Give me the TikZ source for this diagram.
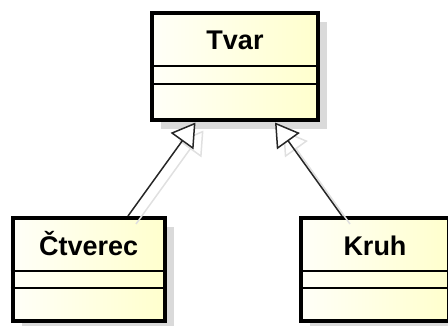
\documentclass[tikz,border=0pt]{standalone}
\usepackage{fontspec}
\setmainfont{Liberation Sans}
\usetikzlibrary{arrows.meta,shadows}
\definecolor{fillA}{RGB}{255,255,248}
\definecolor{fillB}{RGB}{255,255,205}
\definecolor{shadowgray}{RGB}{218,218,218}
\tikzset{
  classbox/.style={draw=black, line width=4pt, rectangle, inner sep=0pt,
    left color=fillA, right color=fillB,
    drop shadow={shadow xshift=9pt, shadow yshift=-9pt, fill=shadowgray, opacity=1}},
  title/.style={font=\bfseries\fontsize{27}{31}\selectfont, anchor=base, inner sep=0pt},
  sepline/.style={line width=2pt},
  gen/.style={line width=1.5pt, draw=black!85,
    -{Triangle[open, length=23pt, width=28pt, fill=white]}},
  genshadow/.style={line width=1.5pt, draw=black!12,
    -{Triangle[open, length=23pt, width=28pt]}}
}
\begin{document}
\begin{tikzpicture}[x=1pt,y=-1pt]
\useasboundingbox (0,0) rectangle (448,326);
\clip (0,0) rectangle (448,326);

% boxes
\node[classbox, minimum width=166pt, minimum height=107.5pt] (tvar) at (235,66.75) {};
\node[classbox, minimum width=152.5pt, minimum height=103pt] (ctv) at (88.75,269.5) {};
\node[classbox, minimum width=148pt, minimum height=103pt] (kruh) at (375,269.5) {};

% connector shadows
\draw[genshadow] ([xshift=125.5pt,yshift=-8pt]ctv.north west) -- ([xshift=53.5pt,yshift=-8pt]tvar.south west);
\draw[genshadow] ([xshift=51pt,yshift=-8pt]kruh.north west) -- ([xshift=133pt,yshift=-8pt]tvar.south west);

% titles
\node[title] (tvarT) at ([yshift=-39pt]tvar.north) {Tvar};
\node[title] (ctvT) at ([yshift=-40pt]ctv.north) {Čtverec};
\node[title] (kruhT) at ([yshift=-40pt]kruh.north) {Kruh};

% compartments
\draw[sepline] ([yshift=-55pt]tvar.north west) -- ([yshift=-55pt]tvar.north east);
\draw[sepline] ([yshift=-73pt]tvar.north west) -- ([yshift=-73pt]tvar.north east);
\draw[sepline] ([yshift=-55pt]ctv.north west) -- ([yshift=-55pt]ctv.north east);
\draw[sepline] ([yshift=-72.5pt]ctv.north west) -- ([yshift=-72.5pt]ctv.north east);
\draw[sepline] ([yshift=-55pt]kruh.north west) -- ([yshift=-55pt]kruh.north east);
\draw[sepline] ([yshift=-72.5pt]kruh.north west) -- ([yshift=-72.5pt]kruh.north east);

% generalizations
\draw[gen] ([xshift=117.5pt]ctv.north west) -- ([xshift=45.5pt]tvar.south west);
\draw[gen] ([xshift=43pt]kruh.north west) -- ([xshift=125pt]tvar.south west);
\end{tikzpicture}
\end{document}
